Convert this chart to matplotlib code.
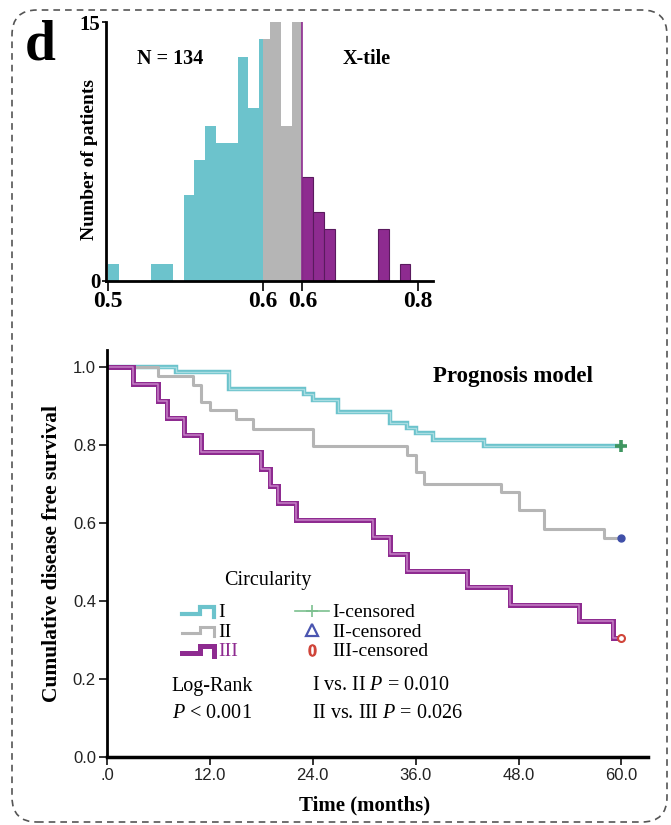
import matplotlib
matplotlib.use('Agg')
import matplotlib.pyplot as plt
from matplotlib import font_manager
from matplotlib.lines import Line2D
from matplotlib.legend_handler import HandlerLine2D
from matplotlib.patches import FancyBboxPatch
import numpy as np

plt.rcParams['mathtext.fontset'] = 'custom'
plt.rcParams['mathtext.rm'] = 'Liberation Serif'
plt.rcParams['mathtext.it'] = 'Liberation Serif:italic'

SERIF = 'Liberation Serif'
names = {f.name for f in font_manager.fontManager.ttflist}
NARROW = 'Liberation Sans Narrow' if 'Liberation Sans Narrow' in names else 'Liberation Sans'

# X-tile histogram of circularity, counts per bin (bin 0 at 0.5)
bin_counts = [1, 0, 0, 0, 1, 1, 0, 5, 7, 9, 8, 8, 13, 10, 14, 16, 9, 15, 6, 4, 3, 0, 0, 0, 0, 3, 0, 1]
cut_low = 14.35
cut_high = 18.0
hist_ticks = [0, cut_low, cut_high, 28.7]
hist_ticklabels = ['0.5', '0.6', '0.6', '0.8']

# Kaplan-Meier curves (months, cumulative DFS)
t_I = [0, 8, 14.2, 23, 24, 27, 33, 35, 36, 38, 44, 60]
s_I = [1.0, 0.987, 0.943, 0.930, 0.917, 0.885, 0.857, 0.845, 0.830, 0.813, 0.797, 0.797]
t_II = [0, 6, 10, 11, 12, 15, 17, 24, 35, 36, 37, 46, 48, 51, 58, 60]
s_II = [1.0, 0.977, 0.954, 0.911, 0.889, 0.866, 0.842, 0.798, 0.775, 0.730, 0.700, 0.680, 0.633, 0.586, 0.563, 0.563]
t_III = [0, 3, 6, 7, 9, 11, 18, 19, 20, 22, 31, 33, 35, 42, 47, 55, 59, 60]
s_III = [1.0, 0.957, 0.913, 0.870, 0.826, 0.783, 0.739, 0.696, 0.652, 0.609, 0.565, 0.522, 0.478, 0.435, 0.391, 0.348, 0.304, 0.304]
km_xticks = [0, 12, 24, 36, 48, 60]
km_xticklabels = ['.0', '12.0', '24.0', '36.0', '48.0', '60.0']
km_yticks = [0.0, 0.2, 0.4, 0.6, 0.8, 1.0]

CYAN = '#6cc3cc'
GREY = '#b5b5b5'
PURPLE = '#8e2b90'

W, H = 671, 825
fig = plt.figure(figsize=(W / 100, H / 100), dpi=100)

def px_axes(x0, y0, x1, y1):
    return fig.add_axes([x0 / W, 1 - y1 / H, (x1 - x0) / W, (y1 - y0) / H])

# dashed rounded frame
frame = FancyBboxPatch((0.12, 0.03), 6.55, 8.12, boxstyle='round,pad=0,rounding_size=0.25',
                       transform=fig.dpi_scale_trans, fill=False, edgecolor='#555555',
                       linewidth=1.2, linestyle=(0, (4, 3)))
fig.patches.append(frame)
fig.text(40 / W, 1 - 46 / H, 'd', fontsize=40, fontweight='bold', family=SERIF,
         ha='center', va='center')

# ---- histogram ----
ax_h = px_axes(106, 22, 433, 281)
groups = [(-1, cut_low, CYAN, 'none'), (cut_low, cut_high, GREY, 'none'), (cut_high, 40, PURPLE, '#5a1a5e')]
for i, c in enumerate(bin_counts):
    if c == 0:
        continue
    for lo, hi, col, ec in groups:
        left, right = max(i, lo), min(i + 1, hi)
        if right > left:
            ax_h.bar(left, c, width=right - left, align='edge', color=col,
                     edgecolor=ec, linewidth=0.8)
ax_h.axvline(cut_high, color=PURPLE, lw=1.2)
ax_h.set_xlim(-0.185, 30.1)
ax_h.set_ylim(0, 15)
ax_h.set_xticks(hist_ticks)
ax_h.set_xticklabels(hist_ticklabels)
ax_h.set_yticks([0, 15])
for lab in ax_h.get_xticklabels() + ax_h.get_yticklabels():
    lab.set_family(SERIF)
    lab.set_fontweight('bold')
ax_h.tick_params(axis='x', labelsize=17, length=7, width=1.2, pad=0)
ax_h.tick_params(axis='y', labelsize=15, length=3, width=1.2, pad=1)
for s in ['top', 'right']:
    ax_h.spines[s].set_visible(False)
for s in ['left', 'bottom']:
    ax_h.spines[s].set_linewidth(2)
ax_h.set_ylabel('Number of patients', family=SERIF, fontweight='bold', fontsize=14,
                ha='center', va='center')
ax_h.yaxis.set_label_coords((90 - 106) / 327, (281 - 160) / 259)
ax_h.text(0.196, 0.857, 'N = 134', transform=ax_h.transAxes, family=SERIF,
          fontweight='bold', fontsize=14.5, ha='center', va='center')
ax_h.text(0.797, 0.857, 'X-tile', transform=ax_h.transAxes, family=SERIF,
          fontweight='bold', fontsize=14.5, ha='center', va='center')

# ---- survival curves ----
ax = px_axes(107, 350, 648, 757)
ax.step(t_I, s_I, where='post', color=CYAN, lw=3.2, solid_joinstyle='miter')
ax.step(t_I, s_I, where='post', color='#a9dde2', lw=1.0)
ax.step(t_II, s_II, where='post', color=GREY, lw=2.2)
ax.step(t_III, s_III, where='post', color=PURPLE, lw=3.6, solid_joinstyle='miter')
ax.step(t_III, s_III, where='post', color='#c680c6', lw=1.1)
ax.plot(t_I[-1], s_I[-1], marker='+', ms=8, mew=2.6, color='#3f9660', ls='none')
ax.plot(t_II[-1], s_II[-1], marker='o', ms=5, color='#3f4fa8', ls='none')
ax.plot(t_III[-1], s_III[-1], marker='o', ms=5, mfc='white', mec='#d0453a', mew=1.5, ls='none')

ax.set_xlim(0, 63.1)
ax.set_ylim(0, 1.044)
ax.set_xticks(km_xticks)
ax.set_xticklabels(km_xticklabels)
ax.set_yticks(km_yticks)
ax.set_yticklabels(['%.1f' % v for v in km_yticks])
for lab in ax.get_xticklabels() + ax.get_yticklabels():
    lab.set_family(NARROW)
ax.tick_params(labelsize=12, length=6, width=1.3, pad=2, colors='#222222')
for s in ['top', 'right']:
    ax.spines[s].set_visible(False)
ax.spines['left'].set_linewidth(2)
ax.spines['bottom'].set_linewidth(2.5)
ax.set_ylabel('Cumulative disease free survival', family=SERIF, fontweight='bold',
              fontsize=15.5, labelpad=8)
ax.set_xlabel('Time (months)', family=SERIF, fontweight='bold', fontsize=15, va='center')
ax.xaxis.set_label_coords((365 - 107) / 541, -(805 - 757) / 407)
ax.text(0.75, 0.934, 'Prognosis model', transform=ax.transAxes, family=SERIF,
        fontweight='bold', fontsize=16.5, ha='center', va='center')


class StepHandler(HandlerLine2D):
    def create_artists(self, legend, orig_handle, xdescent, ydescent, width, height,
                       fontsize, trans):
        xs = np.array([0.0, 0.55, 0.55, 0.95, 0.95]) * width - xdescent
        ys = np.array([0.25, 0.25, 0.75, 0.75, 0.05]) * height - ydescent
        ln = Line2D(xs, ys, color=orig_handle.get_color(), lw=orig_handle.get_linewidth(),
                    solid_joinstyle='miter')
        ln.set_transform(trans)
        return [ln]


handles = [
    Line2D([], [], color=CYAN, lw=3),
    Line2D([], [], color=GREY, lw=2.2),
    Line2D([], [], color=PURPLE, lw=3.6),
    Line2D([], [], color='#7cc08f', lw=1.2, marker='+', ms=9, mew=1.2),
    Line2D([], [], color='#4a55b0', ls='none', marker='^', ms=8, mfc='none', mew=1.6),
    Line2D([], [], color='#d0453a', ls='none', marker=r'$0$', ms=8),
]
labels = ['I', 'II', 'III', 'I-censored', 'II-censored', 'III-censored']
hmap = {h: StepHandler() for h in handles[:3]}
leg = ax.legend(handles, labels, handler_map=hmap, ncol=2, loc='upper left',
                bbox_to_anchor=((172 - 107) / 541, (757 - 594) / 407), frameon=False,
                prop={'family': SERIF, 'size': 14}, handlelength=1.75, handletextpad=0.15,
                labelspacing=0.1, columnspacing=2.9, borderpad=0)
leg.get_texts()[2].set_color(PURPLE)

note_fs = 14.5
ax.text((268 - 107) / 541, (757 - 580) / 407, 'Circularity', transform=ax.transAxes,
        family=SERIF, fontsize=note_fs, ha='center', va='center')
ax.text((212 - 107) / 541, (757 - 686) / 407, 'Log-Rank', transform=ax.transAxes,
        family=SERIF, fontsize=note_fs, ha='center', va='center')
ax.text((212 - 107) / 541, (757 - 713) / 407, r'$P$ < 0.001', transform=ax.transAxes,
        family=SERIF, fontsize=note_fs, ha='center', va='center')
ax.text((312 - 107) / 541, (757 - 686) / 407, r'I vs. II $P$ = 0.010', transform=ax.transAxes,
        family=SERIF, fontsize=note_fs, ha='left', va='center')
ax.text((312 - 107) / 541, (757 - 713) / 407, r'II vs. III $P$ = 0.026', transform=ax.transAxes,
        family=SERIF, fontsize=note_fs, ha='left', va='center')

fig.savefig('out.png', dpi=100)
